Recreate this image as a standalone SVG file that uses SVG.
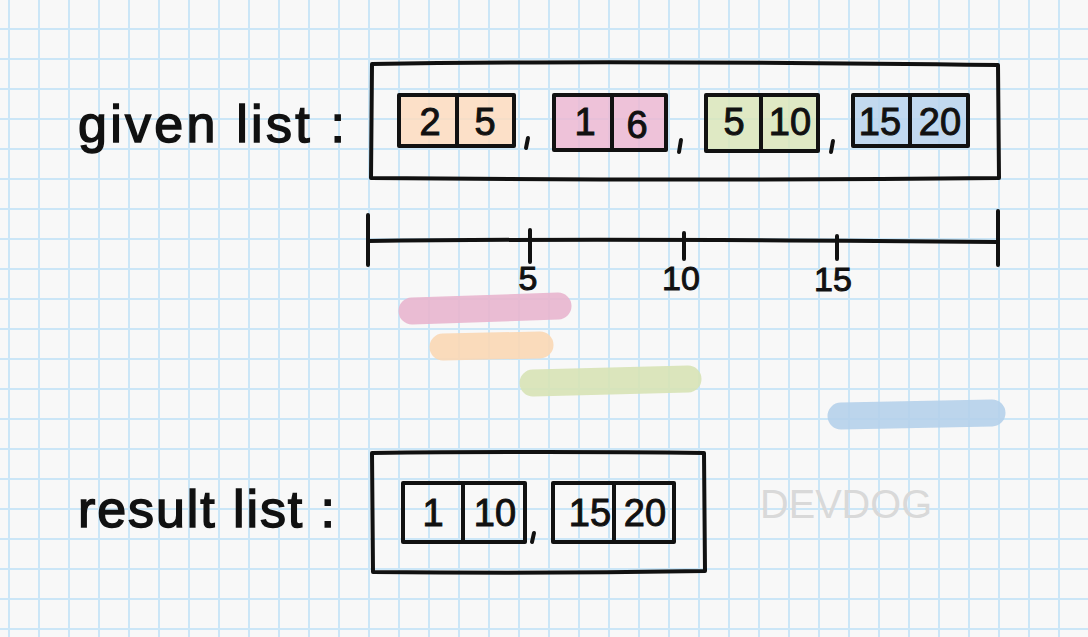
<svg xmlns="http://www.w3.org/2000/svg" width="1088" height="637" viewBox="0 0 1088 637">
<defs>
<style>
.grid{fill:none;stroke:#cbe6f7;stroke-width:2}
.ink{fill:none;stroke:#111;stroke-width:4;stroke-linecap:round;stroke-linejoin:round}
.lbl{font-family:"Liberation Sans",Arial,sans-serif;font-size:52px;fill:#111;stroke:#111;stroke-width:1.5}
.num{font-family:"Liberation Sans",Arial,sans-serif;font-size:38px;fill:#111;stroke:#111;stroke-width:1;text-anchor:middle}
.tick{font-family:"Liberation Sans",Arial,sans-serif;font-size:34px;fill:#111;stroke:#111;stroke-width:1;text-anchor:middle}
.bar{fill:none;stroke-width:27;stroke-linecap:round}
.fill{fill-opacity:0.85}
</style>
</defs>
<rect width="1088" height="637" fill="#f8f8f8"/>
<path class="grid" d="M9 0V637M39 0V637M69 0V637M99 0V637M129 0V637M159 0V637M189 0V637M219 0V637M249 0V637M279 0V637M309 0V637M339 0V637M369 0V637M399 0V637M429 0V637M459 0V637M489 0V637M519 0V637M549 0V637M579 0V637M609 0V637M639 0V637M669 0V637M699 0V637M729 0V637M759 0V637M789 0V637M819 0V637M849 0V637M879 0V637M909 0V637M939 0V637M969 0V637M999 0V637M1029 0V637M1059 0V637M0 29H1088M0 59H1088M0 89H1088M0 119H1088M0 149H1088M0 179H1088M0 209H1088M0 239H1088M0 269H1088M0 299H1088M0 329H1088M0 359H1088M0 389H1088M0 419H1088M0 449H1088M0 479H1088M0 509H1088M0 539H1088M0 569H1088M0 599H1088M0 629H1088"/>

<g id="given-label"><text class="lbl" x="78" y="142" textLength="267" lengthAdjust="spacing">given list :</text></g>

<g id="given-list">
<path class="ink" d="M372 64 Q600 60 998 65 L999 178 Q700 181 371 178 Z"/>
<g id="pair-2-5">
<rect class="fill" x="399" y="95" width="115" height="51" fill="#fddcbf"/>
<path class="ink" d="M399 95H514V146H399Z M457 95V146"/>
<text class="num" x="430" y="135">2</text><text class="num" x="485" y="135">5</text>
</g>
<path class="ink" d="M528 138 L526 148"/>
<g id="pair-1-6">
<rect class="fill" x="554" y="95" width="113" height="55" fill="#ecb9d3"/>
<path class="ink" d="M554 95H666V150H554Z M612 95V150"/>
<text class="num" x="585" y="135">1</text><text class="num" x="637" y="138">6</text>
</g>
<path class="ink" d="M681 140 L679 152"/>
<g id="pair-5-10">
<rect class="fill" x="706" y="95" width="113" height="56" fill="#dae6bb"/>
<path class="ink" d="M706 95H818V151H706Z M761 95V151"/>
<text class="num" x="734" y="135">5</text><text class="num" x="790" y="135">10</text>
</g>
<path class="ink" d="M833 141 L831 152"/>
<g id="pair-15-20">
<rect class="fill" x="853" y="95" width="115" height="51" fill="#b9d4ed"/>
<path class="ink" d="M853 95H968V146H853Z M910 95V146"/>
<text class="num" x="880" y="135">15</text><text class="num" x="940" y="135">20</text>
</g>
</g>

<g id="number-line">
<path class="ink" d="M368 241 Q600 238 998 242"/>
<path class="ink" d="M368 215V265 M998 211V265 M530 230V262 M684 233V259 M837 236V259"/>
<text class="tick" x="528" y="290">5</text>
<text class="tick" x="681" y="290">10</text>
<text class="tick" x="833" y="291">15</text>
</g>

<g id="bars" opacity="0.9">
<path class="bar" stroke="#e9b6cf" d="M412 311 L558 306"/>
<path class="bar" stroke="#fbd8b5" d="M443 347 L540 345"/>
<path class="bar" stroke="#d8e4b6" d="M533 383 L688 379"/>
<path class="bar" stroke="#b5d0ea" d="M841 416 L992 413"/>
</g>

<g id="result-label"><text class="lbl" x="78" y="527" textLength="257" lengthAdjust="spacing">result list :</text></g>

<g id="result-list">
<path class="ink" d="M372 453 Q550 451 704 453 L705 571 Q540 574 373 572 Z"/>
<g id="pair-1-10">
<path class="ink" d="M403 483H525V542H403Z M463 483V542"/>
<text class="num" x="433" y="526">1</text><text class="num" x="495" y="526">10</text>
</g>
<path class="ink" d="M534 533 L532 542"/>
<g id="pair-15-20-r">
<path class="ink" d="M553 483H674V542H553Z M614 483V542"/>
<text class="num" x="590" y="526">15</text><text class="num" x="645" y="526">20</text>
</g>
</g>

<g id="watermark"><text x="760" y="518" font-family="Liberation Sans,Arial,sans-serif" font-size="40" fill="#d9d9d9" textLength="172" lengthAdjust="spacingAndGlyphs">DEVDOG</text></g>
</svg>
